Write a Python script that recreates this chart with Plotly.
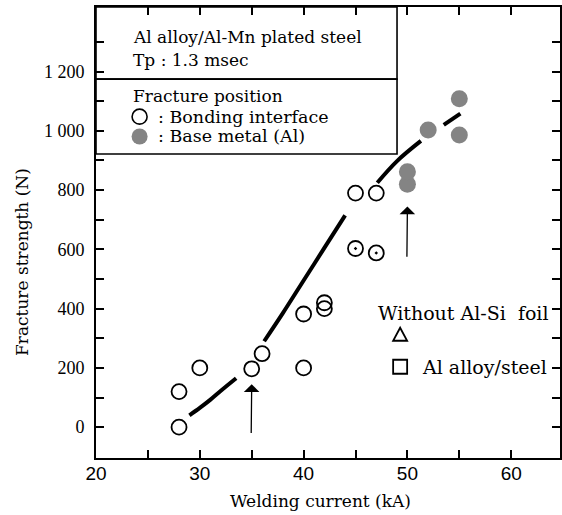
import plotly.graph_objects as go

# ---- data ----
open_x = [28, 28, 30, 35, 36, 40, 40, 42, 42, 45, 47]
open_y = [0, 120, 200, 197, 248, 200, 382, 400, 420, 790, 790]
dot_x = [45, 47]
dot_y = [603, 588]
base_x = [50, 50, 52, 55, 55]
base_y = [820, 862, 1003, 1108, 986]

curve_x = [29, 30, 31, 32, 33.5, None, 36.2, 38, 40, 42, 44, None,
           47.1, 49, 51.3, None, 53.5, 55.1]
curve_y = [40, 65, 92, 122, 165, None, 290, 385, 495, 605, 715, None,
           825, 898, 966, None, 1020, 1058]

arrow_x = [35, 50]
arrow_tip = [145, 745]
arrow_tail = [-25, 570]

x_ticks = [20, 25, 30, 35, 40, 45, 50, 55, 60]
x_labels = ["20", "", "30", "", "40", "", "50", "", "60"]
y_ticks = list(range(0, 1400, 100))
y_labels = ["0", "", "200", "", "400", "", "600", "", "800", "",
            "1 000", "", "1 200", ""]

SERIF = "DejaVu Serif"
X_RANGE = [20, 64.7]
Y_RANGE = [-104, 1418]

fig = go.Figure()

fig.add_trace(go.Scatter(
    x=curve_x, y=curve_y, mode="lines", connectgaps=False,
    line=dict(color="black", width=4, shape="spline"),
    hoverinfo="skip", showlegend=False))

fig.add_trace(go.Scatter(
    x=open_x, y=open_y, mode="markers", name="Bonding interface",
    marker=dict(symbol="circle-open", size=15, color="black",
                line=dict(width=1.8, color="black")),
    showlegend=False))

fig.add_trace(go.Scatter(
    x=dot_x, y=dot_y, mode="markers", name="Bonding interface (dot)",
    marker=dict(symbol="circle-open-dot", size=15, color="black",
                line=dict(width=1.8, color="black")),
    showlegend=False))

fig.add_trace(go.Scatter(
    x=base_x, y=base_y, mode="markers", name="Base metal (Al)",
    marker=dict(symbol="circle", size=17, color="#848484",
                line=dict(width=0)),
    showlegend=False))

# arrows
for ax_, tip, tail in zip(arrow_x, arrow_tip, arrow_tail):
    fig.add_annotation(x=ax_, y=tip, ax=ax_ - 0.05, ay=tail,
                       xref="x", yref="y", axref="x", ayref="y",
                       showarrow=True, arrowhead=1, arrowsize=2.0,
                       arrowwidth=1.3, arrowcolor="black", text="")

# legend boxes
fig.add_shape(type="rect", xref="x", yref="y", x0=20, x1=49.0,
              y0=1174.5, y1=Y_RANGE[1], line=dict(color="black", width=1.6))
fig.add_shape(type="rect", xref="x", yref="y", x0=20, x1=49.0,
              y0=922, y1=1174.5, line=dict(color="black", width=1.6))

def txt(x, y, s, size=17):
    fig.add_annotation(x=x, y=y, xref="x", yref="y", text=s,
                       showarrow=False, xanchor="left", yanchor="middle",
                       font=dict(family=SERIF, size=size, color="black"))

txt(23.4, 1317, "Al alloy/Al-Mn plated steel")
txt(23.4, 1240, "Tp : 1.3 msec")
txt(23.4, 1116, "Fracture position")
txt(25.8, 1048, ": Bonding interface", size=17.5)
txt(25.8, 981, ": Base metal (Al)", size=17.5)

# key circles in box
fig.add_shape(type="circle", xref="x", yref="y", xsizemode="pixel",
              ysizemode="pixel", xanchor=24.2, yanchor=1048,
              x0=-7.5, x1=7.5, y0=-7.5, y1=7.5,
              line=dict(color="black", width=1.6))
fig.add_shape(type="circle", xref="x", yref="y", xsizemode="pixel",
              ysizemode="pixel", xanchor=24.2, yanchor=981,
              x0=-8, x1=8, y0=-8, y1=8,
              line=dict(width=0), fillcolor="#848484")

# lower-right note
txt(47.0, 385, "Without Al-Si&nbsp; foil", size=19)
txt(51.2, 204, "Al alloy/steel", size=19)
fig.add_shape(type="path", xref="x", yref="y", xsizemode="pixel",
              ysizemode="pixel", xanchor=49.3, yanchor=312,
              path="M -7,-6 L 7,-6 L 0,7 Z",
              line=dict(color="black", width=1.8))
fig.add_shape(type="rect", xref="x", yref="y", xsizemode="pixel",
              ysizemode="pixel", xanchor=49.3, yanchor=204,
              x0=-7, x1=7, y0=-7, y1=7,
              line=dict(color="black", width=1.8))

# axis titles (placed in pixel terms)
W, H = 562, 515
ML, MR, MT, MB = 96, 2, 7, 57
pw, ph = W - ML - MR, H - MT - MB
fig.add_annotation(x=(320 - ML) / pw, y=(H - MB - 501) / ph,
                   xref="paper", yref="paper", xanchor="center", yanchor="middle",
                   text="Welding current (kA)", showarrow=False,
                   font=dict(family=SERIF, size=17, color="black"))
fig.add_annotation(x=(22 - ML) / pw, y=(H - MB - 262) / ph,
                   xref="paper", yref="paper", xanchor="center", yanchor="middle",
                   text="Fracture strength (N)", showarrow=False, textangle=-90,
                   font=dict(family=SERIF, size=17, color="black"))

axis_common = dict(showline=True, linecolor="black", linewidth=1.6,
                   mirror="ticks", ticks="inside", ticklen=8, tickwidth=1.5,
                   tickcolor="black", showgrid=False, zeroline=False)

fig.update_xaxes(range=X_RANGE, tickmode="array", tickvals=x_ticks,
                 ticktext=x_labels, ticklabelstandoff=-3,
                 tickfont=dict(family="Liberation Sans Narrow, Liberation Sans",
                               size=19, color="black"),
                 **axis_common)
fig.update_yaxes(range=Y_RANGE, tickmode="array", tickvals=y_ticks,
                 ticktext=y_labels, ticklabelstandoff=6,
                 tickfont=dict(family="Liberation Serif", size=18, color="black"),
                 **axis_common)

fig.update_layout(width=W, height=H,
                  margin=dict(l=ML, r=MR, t=MT, b=MB, autoexpand=False),
                  paper_bgcolor="white", plot_bgcolor="white",
                  showlegend=False)

fig.write_html("out.html")
